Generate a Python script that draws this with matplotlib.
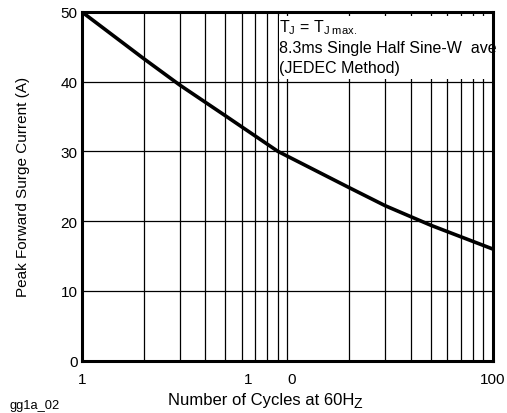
import matplotlib
matplotlib.use("Agg")
import matplotlib.pyplot as plt
from matplotlib.patches import Rectangle
import numpy as np

plt.rcParams['font.family'] = ['Liberation Sans', 'DejaVu Sans']
plt.rcParams['mathtext.fontset'] = 'custom'
plt.rcParams['mathtext.rm'] = 'Liberation Sans'
plt.rcParams['mathtext.it'] = 'Liberation Sans'

# Data
cycles = [1, 2, 3, 5, 9, 20, 30, 50, 100]
current = [50, 43.3, 39.5, 35.1, 30.0, 24.8, 22.2, 19.4, 16.0]

y_ticks = [0, 10, 20, 30, 40, 50]
y_labels = ['0', '10', '20', '30', '40', '50']
x_tick_pos = [1, 6.45, 10.5, 100]
x_tick_labels = ['1', '1', '0', '100']
grid_y = [10, 20, 30, 40]
grid_x = [2, 3, 4, 5, 6, 7, 8, 9, 10, 20, 30, 40, 50, 60, 70, 80, 90]

fig = plt.figure(figsize=(5.07, 4.14), dpi=100)
ax = fig.add_axes([0.161, 0.1263, 0.811, 0.8430])
ax.set_xscale('log')
ax.set_xlim(1, 100)
ax.set_ylim(0, 50)

for gx in grid_x:
    ax.axvline(gx, color='black', lw=0.9, zorder=1)
for gy in grid_y:
    ax.axhline(gy, color='black', lw=0.9, zorder=1)

# white annotation box
ax.add_patch(Rectangle((9.15, 40.35), 100 - 9.15, 49.45 - 40.35, facecolor='white',
                       edgecolor='none', zorder=2))

ax.plot(cycles, current, color='black', lw=2.6, zorder=3, solid_capstyle='butt')

ax.set_yticks(y_ticks)
ax.set_yticklabels(y_labels)
ax.set_xticks(x_tick_pos)
ax.set_xticklabels(x_tick_labels)
ax.xaxis.set_minor_locator(matplotlib.ticker.NullLocator())
ax.tick_params(axis='both', length=0, labelsize=11)
ax.tick_params(axis='y', pad=3)
ax.tick_params(axis='x', pad=8)

for s in ax.spines.values():
    s.set_linewidth(2.2)
    s.set_zorder(4)

ax.set_ylabel('Peak Forward Surge Current (A)', fontsize=11, labelpad=22)

# x label with lowered Z
xl = fig.text(168.3 / 507, 9.0 / 414, 'Number of Cycles at 60H', fontsize=12,
              ha='left', va='baseline')
ax.annotate('Z', xy=(1, 0), xycoords=xl, xytext=(-0.6, -2.2), textcoords='offset points',
            fontsize=10, ha='left', va='bottom', annotation_clip=False)

tx = 9.15
ax.text(tx, 47.85, 'T$_\\mathregular{J}$ = T$_\\mathregular{J\\ max.}$', fontsize=11.5, va='center',
        ha='left', zorder=5, clip_on=False)
ax.text(tx, 44.9, '8.3ms Single Half Sine-W  ave', fontsize=11.5, va='center', ha='left',
        zorder=5, clip_on=False)
ax.text(tx, 42.0, '(JEDEC Method)', fontsize=11.5, va='center', ha='left', zorder=5, clip_on=False)

fig.text(10 / 507, 4.5 / 414, 'gg1a_02', fontsize=9.3, ha='left', va='baseline')

fig.savefig('out.png', dpi=100)
